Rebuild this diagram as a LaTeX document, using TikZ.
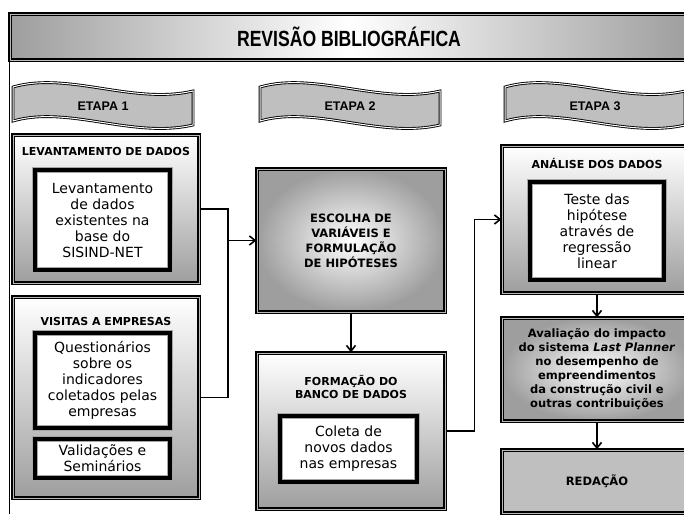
\documentclass[tikz,border=0pt]{standalone}
\usepackage{fontspec}
\setmainfont{DejaVu Sans}
\newfontfamily\arialfont{Liberation Sans}
\usepackage{tikz}
\usetikzlibrary{arrows.meta}
\usetikzlibrary{calc, positioning}
\tikzstyle{rim} = [draw=black, line width=1.3pt, double=gray!55, double distance=1pt, inner sep=0pt]
\tikzstyle{block} = [rim, top color=white, bottom color=black!38]
\tikzstyle{glow} = [rim, inner color=white, outer color=black!38]
\tikzstyle{inblock} = [draw=gray!70, line width=0.8pt, double=black, double distance=3.6pt,
	fill=white, inner sep=0pt, align=center,
	font=\fontsize{14}{16}\selectfont]
\tikzstyle{head} = [align=center, font=\bfseries\fontsize{11}{13}\selectfont]
\tikzstyle{etapa} = [draw=black, line width=0.9pt, double=white, double distance=1pt, fill=black!25]
\tikzstyle{arrow} = [-{Straight Barb[length=2mm, width=3.2mm]}, line width=1.6pt]
\tikzstyle{wire} = [line width=1.6pt]
\newcommand{\drawetapa}[3]{
	\draw [etapa] #2 .. controls +(55,-16) and +(-60,14) .. ++(180,4)
		-- ++(0,34) .. controls +(-60,14) and +(55,-16) .. ++(-180,-4) -- cycle;
	\node (#1) [font=\arialfont\bfseries\fontsize{12.5}{14}\selectfont] at ($ #2 + (90,19) $) {#3}}

\begin{document}
\begin{tikzpicture}[x=1pt, y=-1pt]
			\useasboundingbox (0,0) rectangle (684,514);
			\clip (0,0) rectangle (684,514);
			
			\node (rev) [rim, left color=black!38, right color=black!38, middle color=white,
				minimum width=678pt, minimum height=46pt,
				font=\arialfont\bfseries\fontsize{22}{24}\selectfont] at (349,37)
				{\scalebox{0.8}[1]{REVISÃO BIBLIOGRÁFICA}};
			\coordinate (bot) at (0,514);
			\draw [wire] (rev.south west) -- (rev.south west |- bot);
			
			\drawetapa{et1}{(13,87)}{ETAPA 1};
			\drawetapa{et2}{(260,87)}{ETAPA 2};
			\drawetapa{et3}{(505,87)}{ETAPA 3};
			
			\node (lev) [block, minimum width=186pt, minimum height=148pt] at (106,209) {};
			\node (levt) [head, below=9pt] at (lev.north) {LEVANTAMENTO DE DADOS};
			\node (levin) [inblock, minimum width=135pt, minimum height=100pt] at (102.5,220)
				{Levantamento\\de dados\\existentes na\\base do\\SISIND-NET};
			
			\node (vis) [block, minimum width=186pt, minimum height=201pt] at (106,397.5) {};
			\node (vist) [head, below=17.5pt] at (vis.north) {VISITAS A EMPRESAS};
			\node (visin) [inblock, minimum width=135pt, minimum height=95pt] at (102.5,380.5)
				{Questionários\\sobre os\\indicadores\\coletados pelas\\empresas};
			\node (valin) [inblock, minimum width=135pt, minimum height=39pt] at (102.5,458.5)
				{Validações e\\Seminários};
			
			\node (esc) [glow, minimum width=188pt, minimum height=143pt, align=center,
				font=\bfseries\fontsize{11.5}{15}\selectfont] at (351,240.5)
				{ESCOLHA DE\\VARIÁVEIS E\\FORMULAÇÃO\\DE HIPÓTESES};
			
			\node (form) [block, minimum width=188pt, minimum height=156pt] at (351,431) {};
			\node (formt) [head, below=19pt] at (form.north) {FORMAÇÃO DO\\BANCO DE DADOS};
			\node (formin) [inblock, minimum width=137pt, minimum height=66pt] at (348.5,449)
				{Coleta de\\novos dados\\nas empresas};
			
			\node (ana) [block, minimum width=190pt, minimum height=147pt] at (597,219.5) {};
			\node (anat) [head, below=9.5pt] at (ana.north) {ANÁLISE DOS DADOS};
			\node (anain) [inblock, minimum width=134pt, minimum height=98pt] at (597,231)
				{Teste das\\hipótese\\através de\\regressão\\linear};
			
			\node (ava) [glow, minimum width=190pt, minimum height=103pt, align=center,
				font=\bfseries\fontsize{11.5}{14}\selectfont] at (597,369.5)
				{Avaliação do impacto\\do sistema \textit{Last Planner}\\no desempenho de\\empreendimentos\\da construção civil e\\outras contribuições};
			
			\node (red) [rim, fill=black!25, minimum width=190pt, minimum height=63pt,
				font=\bfseries\fontsize{11.5}{14}\selectfont] at (597,481.5) {REDAÇÃO};
			
			\coordinate (j1) at (228,240.5);
			\draw [wire] (lev.east) -| (j1) |- (vis.east);
			\draw [arrow] (j1) -- (esc.west);
			\draw [arrow] (esc) -- (form);
			\draw [arrow] (form.east) -- ++(29,0) |- (ana.west);
			\draw [arrow] (ana) -- (ava);
			\draw [arrow] (ava) -- (red);
			
		\end{tikzpicture}
\end{document}
